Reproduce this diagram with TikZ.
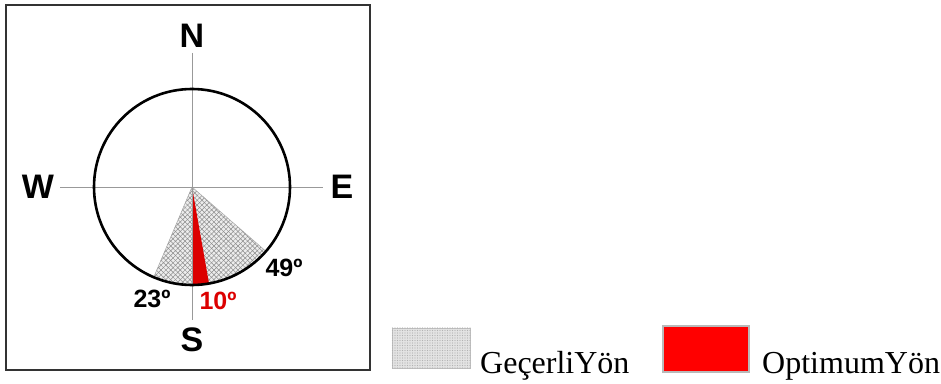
\documentclass[tikz,border=0pt]{standalone}
\usepackage{fontspec}
\setmainfont{Liberation Serif}
\newfontfamily\compassfont{Liberation Sans}
\usetikzlibrary{patterns.meta}
\definecolor{hatchgray}{gray}{0.55}
\definecolor{optred}{RGB}{220,0,0}
\tikzset{
  axisline/.style={draw=gray!80, line width=0.9pt},
  dirlabel/.style={font=\compassfont\bfseries\fontsize{34}{34}\selectfont, inner sep=0pt},
  anglabel/.style={font=\compassfont\bfseries\fontsize{25}{25}\selectfont, inner sep=0pt},
  legendtext/.style={font=\fontsize{32}{32}\selectfont, inner sep=0pt, anchor=base west},
  hatchA/.style={pattern={Lines[angle=45,distance=3.4pt,line width=0.5pt]}, pattern color=hatchgray},
  hatchB/.style={pattern={Lines[angle=-45,distance=3.4pt,line width=0.5pt]}, pattern color=hatchgray},
}
\begin{document}
\begin{tikzpicture}[x=1pt,y=1pt]
\useasboundingbox (0,0) rectangle (941,383);
% frame
\draw[line width=1.3pt, draw=black!80] (6,378) rectangle (370,13);
% center and axis ends
\coordinate (C) at (192,196);
\coordinate (axN) at (192,330);
\coordinate (axS) at (192,63);
\coordinate (axW) at (60,196);
\coordinate (axE) at (323,196);
% hatched sector
\fill[white!93!black] (C) -- ++(247:98) arc[start angle=247,end angle=319,radius=98] -- cycle;
\fill[hatchA] (C) -- ++(247:98) arc[start angle=247,end angle=319,radius=98] -- cycle;
\fill[hatchB] (C) -- ++(247:98) arc[start angle=247,end angle=319,radius=98] -- cycle;
\draw[gray!70, line width=0.5pt] (C) -- ++(247:98);
\draw[gray!70, line width=0.5pt] (C) -- ++(319:98);
% red optimum wedge
\fill[optred] (C) -- ++(270:98) arc[start angle=270,end angle=280,radius=98] -- cycle;
% axes
\draw[axisline] (axN) -- (axS);
\draw[axisline] (axW) -- (axE);
% circle
\draw[line width=2.6pt] (C) circle[radius=98];
% direction labels
\node[dirlabel] (N) at (192,347) {N};
\node[dirlabel] (W) at (38,196) {W};
\node[dirlabel] (E) at (342,196) {E};
\node[dirlabel] (S) at (192,43) {S};
% angle labels
\node[anglabel] (a23) at (152,84) {23º};
\node[anglabel] (a49) at (284,115) {49º};
\node[anglabel, text=optred] (a10) at (218,82) {10º};
% legend
\node[draw=gray!50, line width=1pt, fill=gray!22, minimum width=78pt, minimum height=40pt, inner sep=0pt] (legH) at (431,35) {};
\fill[pattern={Dots[distance=2.5pt,radius=0.6pt]}, pattern color=gray!60] (legH.south west) rectangle (legH.north east);
\node[legendtext] (legHt) at (480,10) {GeçerliYön};
\node[draw=gray!55, line width=1.6pt, fill=red, minimum width=86pt, minimum height=46pt, inner sep=0pt] (legR) at (706,34) {};
\node[legendtext] (legRt) at (762,10) {OptimumYön};
\end{tikzpicture}
\end{document}
